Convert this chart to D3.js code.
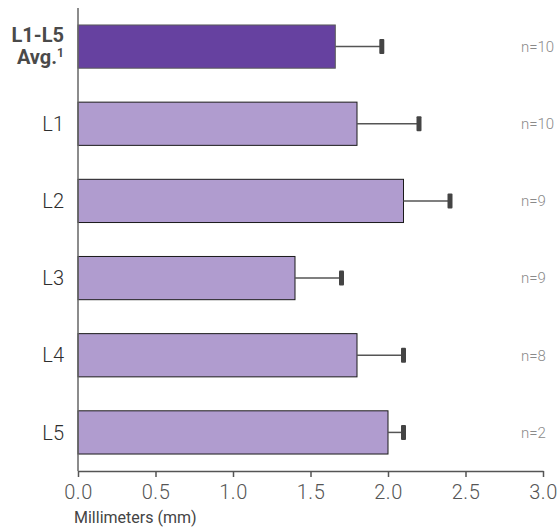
<!DOCTYPE html>
<html>
<head>
<meta charset="utf-8">
<script src="https://cdn.jsdelivr.net/npm/d3@7"></script>
<style>
  html, body { margin: 0; padding: 0; background: #fff; }
  svg { display: block; font-family: Roboto, "Liberation Sans", Arial, sans-serif; }
</style>
</head>
<body>
<svg id="chart" width="557" height="527"></svg>
<script>
// Spinal levels, mean measurement, upper error bound, sample size
const categories = ["L1-L5 Avg.", "L1", "L2", "L3", "L4", "L5"];
const means      = [1.66, 1.8, 2.1, 1.4, 1.8, 2.0];
const upperError = [1.96, 2.2, 2.4, 1.7, 2.1, 2.1];
const sampleN    = ["n=10", "n=10", "n=9", "n=9", "n=8", "n=2"];
const xTicks     = [0, 0.5, 1.0, 1.5, 2.0, 2.5, 3.0];

const svg = d3.select("#chart");
const plotLeft = 78, plotRight = 543, plotTop = 8, plotBottom = 471;

const x = d3.scaleLinear().domain([0, 3]).range([plotLeft, plotRight]);
const y = d3.scaleBand().domain(categories).range([plotTop, plotBottom]).paddingInner(0.44).paddingOuter(0.22);

const rows = categories.map((c, i) => ({ c, m: means[i], e: upperError[i], n: sampleN[i], avg: i === 0 }));

// Bars
svg.append("g").selectAll("rect").data(rows).join("rect")
  .attr("x", x(0))
  .attr("y", d => y(d.c))
  .attr("width", d => x(d.m) - x(0))
  .attr("height", y.bandwidth())
  .attr("fill", d => d.avg ? "#6641a0" : "#b09ccf")
  .attr("stroke", d => d.avg ? "#5a5a5a" : "#1a1a1a")
  .attr("stroke-width", 1);

// Error whiskers
const eb = svg.append("g");
eb.selectAll("line").data(rows).join("line")
  .attr("x1", d => x(d.m))
  .attr("x2", d => x(d.e))
  .attr("y1", d => y(d.c) + y.bandwidth() / 2)
  .attr("y2", d => y(d.c) + y.bandwidth() / 2)
  .attr("stroke", "#555")
  .attr("stroke-width", 1.5);
eb.selectAll("rect").data(rows).join("rect")
  .attr("x", d => x(d.e) - 2.5)
  .attr("y", d => y(d.c) + y.bandwidth() / 2 - 7.5)
  .attr("width", 5)
  .attr("height", 15)
  .attr("rx", 1)
  .attr("fill", "#444");

// Sample sizes
svg.append("g").selectAll("text").data(rows).join("text")
  .attr("x", 521)
  .attr("y", d => y(d.c) + y.bandwidth() / 2)
  .attr("dy", "0.35em")
  .attr("fill", "#8a8a8a")
  .attr("font-size", 15)
  .attr("font-weight", 300)
  .text(d => d.n);

// X axis
const xAxis = svg.append("g")
  .attr("transform", `translate(0,${plotBottom})`)
  .call(d3.axisBottom(x).tickValues(xTicks).tickFormat(d3.format(".1f")).tickSize(6).tickSizeOuter(0));
xAxis.select(".domain").attr("stroke", "#555").attr("stroke-width", 1.5);
xAxis.selectAll(".tick line").attr("stroke", "#555").attr("stroke-width", 1.5);
xAxis.selectAll(".tick text")
  .attr("font-size", 20)
  .attr("fill", "#555")
  .attr("font-family", "Roboto, 'Liberation Sans', sans-serif")
  .attr("font-weight", 300)
  .attr("letter-spacing", 0.5)
  .attr("y", 28)
  .attr("dy", 0);

// Y axis line
svg.append("line")
  .attr("x1", plotLeft).attr("x2", plotLeft)
  .attr("y1", plotTop).attr("y2", plotBottom)
  .attr("stroke", "#666").attr("stroke-width", 1.5);

// Category labels
const labels = svg.append("g")
  .attr("text-anchor", "end");
rows.forEach(d => {
  const cy = y(d.c) + y.bandwidth() / 2;
  if (d.avg) {
    const t = labels.append("text")
      .attr("x", 64).attr("y", cy - 4.5)
      .attr("font-size", 20).attr("font-weight", 700).attr("fill", "#4a4a4a");
    t.append("tspan").attr("x", 64).text("L1-L5");
    t.append("tspan").attr("x", 64).attr("dy", 22).text("Avg.");
    t.append("tspan").attr("font-size", 12).attr("dy", -7).text("1");
  } else {
    labels.append("text")
      .attr("x", 64).attr("y", cy).attr("dy", "0.36em")
      .attr("font-size", 20).attr("font-weight", 300).attr("fill", "#2e2e2e")
      .text(d.c);
  }
});

// Axis title
svg.append("text")
  .attr("x", 74).attr("y", 523)
  .attr("font-size", 16).attr("fill", "#444")
  .text("Millimeters (mm)");
</script>
</body>
</html>
